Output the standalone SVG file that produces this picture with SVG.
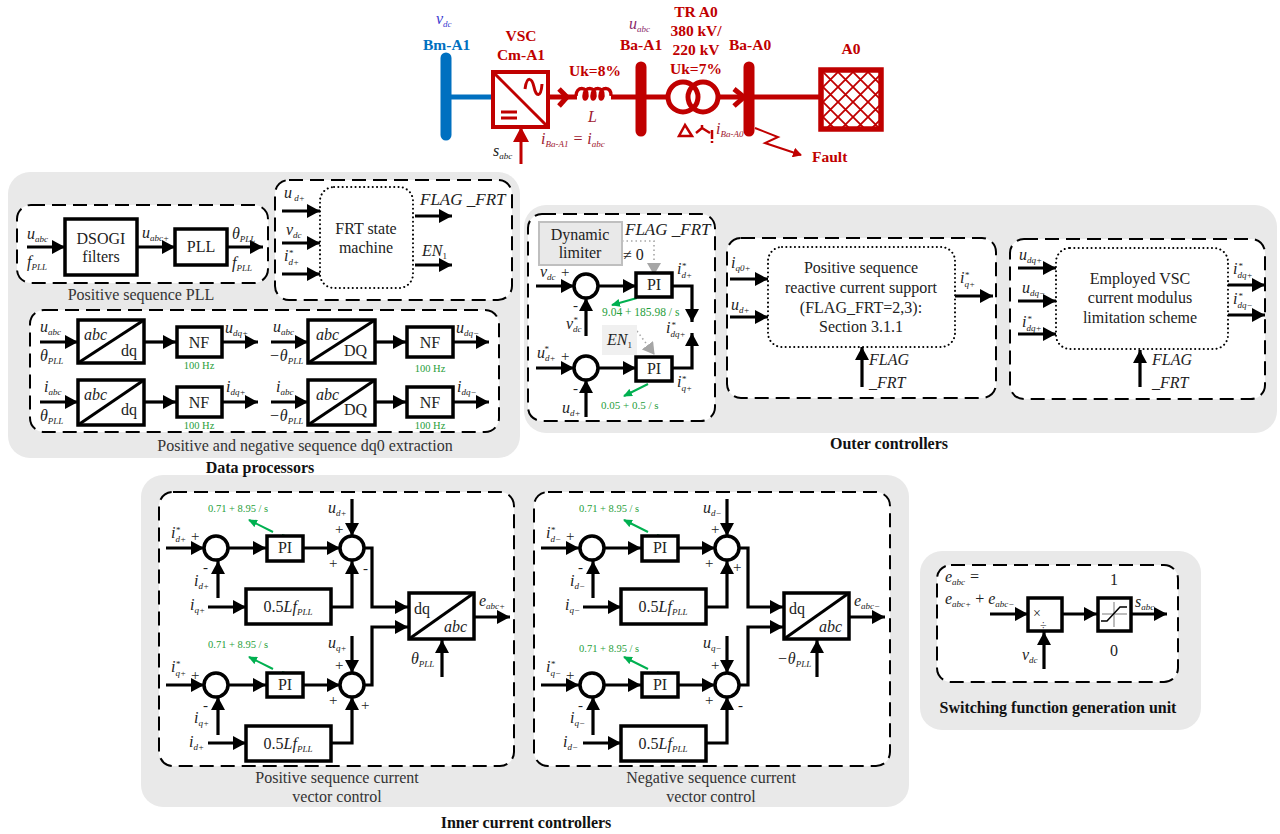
<svg xmlns="http://www.w3.org/2000/svg" width="1280" height="834" viewBox="0 0 1280 834">
<style>
text{font-family:"Liberation Serif","Times New Roman",serif;fill:#222}
.l{font-style:italic;font-size:16px}
.s{font-size:9px}
.t{font-style:normal;font-size:9px}
.n{font-size:16px;text-anchor:middle}
.i15{font-size:16px}
.c{font-size:16px;text-anchor:middle;fill:#333}
.h{font-size:16px;font-weight:bold;text-anchor:middle;fill:#111}
.r{font-size:15.5px;font-weight:bold;fill:#c00000}
.rm{text-anchor:middle}
.g{font-size:10.5px;fill:#1f9e3a}
.sg{font-size:15px}
.ff{font-size:17px}
.panel{fill:#e9e9e9}
.dash{fill:#fff;stroke:#000;stroke-width:2;stroke-dasharray:14 7}
.dot{fill:#fff;stroke:#000;stroke-width:2;stroke-dasharray:.1 4.2;stroke-linecap:round}
.b{fill:#fff;stroke:#000;stroke-width:3.5}
.j{fill:#fff;stroke:#000;stroke-width:3.5}
.w{fill:none;stroke:#000;stroke-width:3.2}
.ar{marker-end:url(#a)}
.gr{fill:none;stroke:#00b050;stroke-width:2;marker-end:url(#ag)}
.gs{fill:none;stroke:#00b050;stroke-width:2}
.gd{fill:none;stroke:#a6a6a6;stroke-width:1.6;stroke-dasharray:1.5 3;marker-end:url(#ah)}
.red{fill:none;stroke:#c00000;stroke-width:5}
</style>
<defs>
<marker id="a" markerUnits="userSpaceOnUse" markerWidth="14" markerHeight="14" refX="13" refY="7" orient="auto"><path d="M0,0L13,7L0,14z" fill="#000"/></marker>
<marker id="ag" markerUnits="userSpaceOnUse" markerWidth="9" markerHeight="8" refX="8" refY="4" orient="auto"><path d="M0,0L9,4L0,8z" fill="#00b050"/></marker>
<marker id="ah" markerUnits="userSpaceOnUse" markerWidth="12" markerHeight="14" refX="11" refY="7" orient="auto"><path d="M0,0L12,7L0,14z" fill="#a6a6a6"/></marker>
<marker id="ar" markerUnits="userSpaceOnUse" markerWidth="15" markerHeight="16" refX="14" refY="8" orient="auto"><path d="M0,0L15,8L0,16z" fill="#c00000"/></marker>
<marker id="af" markerUnits="userSpaceOnUse" markerWidth="9" markerHeight="10" refX="8" refY="5" orient="auto"><path d="M0,0L9,5L0,10z" fill="#c00000"/></marker>
<pattern id="hatch" patternUnits="userSpaceOnUse" width="15" height="15" x="823" y="72"><path d="M0,0L15,15M15,0L0,15" stroke="#c00000" stroke-width="1.8" fill="none"/></pattern>
</defs>

<g id="panels">
<rect class="panel" x="8" y="172" width="512" height="286" rx="22"/>
<rect class="panel" x="524" y="205" width="753" height="228" rx="22"/>
<rect class="panel" x="141" y="475" width="768" height="332" rx="22"/>
<rect class="panel" x="920" y="551" width="281" height="179" rx="22"/>
<rect class="dash" x="17" y="205" width="251" height="78" rx="14"/>
<rect class="dash" x="275" y="180" width="237" height="120" rx="14"/>
<rect class="dash" x="30" y="310" width="469" height="122" rx="14"/>
<rect class="dash" x="528" y="214" width="187" height="207" rx="14"/>
<rect class="dash" x="727" y="238" width="269" height="160" rx="14"/>
<rect class="dash" x="1010" y="239" width="255" height="160" rx="14"/>
<rect class="dash" x="159" y="492" width="355" height="274" rx="14"/>
<rect class="dash" x="534" y="492" width="356" height="274" rx="14"/>
<rect class="dash" x="937" y="565" width="241" height="117" rx="14"/>
<text class="c" x="141" y="300">Positive sequence PLL</text>
<text class="c" x="305" y="451">Positive and negative sequence dq0 extraction</text>
<text class="c" x="337" y="783">Positive sequence current</text>
<text class="c" x="337" y="802">vector control</text>
<text class="c" x="711" y="783">Negative sequence current</text>
<text class="c" x="711" y="802">vector control</text>
<text class="h" x="260" y="473">Data processors</text>
<text class="h" x="889" y="449">Outer controllers</text>
<text class="h" x="526" y="828">Inner current controllers</text>
<text class="h" x="1058" y="713">Switching function generation unit</text>
</g>

<g id="connectors">
<!-- one-line diagram -->
<path d="M446,97H493" fill="none" stroke="#0070c0" stroke-width="5"/>
<path class="red" d="M548,97H577M611,97H641M641,97H668M718,97H749M749,97H819"/>
<path class="red" d="M559,89L567,97L559,106M734,89L744,97L734,106"/>
<path d="M521,164V128" fill="none" stroke="#c00000" stroke-width="3" marker-end="url(#ar)"/>
<path d="M755,128L778,137L765,143L801,155" fill="none" stroke="#c00000" stroke-width="2" marker-end="url(#af)"/>
<!-- PLL -->
<path class="w ar" d="M27,247H65"/><path class="w ar" d="M137,247H175"/><path class="w ar" d="M227,247H263"/>
<!-- FRT -->
<path class="w ar" d="M282,211H320"/><path class="w ar" d="M282,243H320"/><path class="w ar" d="M282,274H320"/>
<path class="w ar" d="M415,216H452"/><path class="w ar" d="M415,265H452"/>
<!-- dq0 -->
<path class="w ar" d="M40,342H78"/><path class="w ar" d="M144,342H176"/><path class="w ar" d="M222,342H258"/>
<path class="w ar" d="M271,342H308"/><path class="w ar" d="M375,342H406"/><path class="w ar" d="M453,342H489"/>
<path class="w ar" d="M40,402H78"/><path class="w ar" d="M144,402H176"/><path class="w ar" d="M222,402H258"/>
<path class="w ar" d="M271,402H308"/><path class="w ar" d="M375,402H406"/><path class="w ar" d="M453,402H489"/>
<!-- dynamic limiter -->
<path class="w ar" d="M536,286H574"/><path class="w ar" d="M598,286H636"/>
<path class="w ar" d="M586,336V298"/>
<path class="w ar" d="M672,286H692V322"/>
<path class="w ar" d="M536,368H574"/><path class="w ar" d="M598,368H636"/>
<path class="w ar" d="M586,417V380"/>
<path class="w ar" d="M672,368H692V333"/>
<path class="gd" d="M622,241H654V274"/>
<path class="gd" d="M637,331L654,354"/>
<path class="gr" d="M637,298L612,305"/>
<path class="gr" d="M648,384L624,396"/>
<!-- outer 1 -->
<path class="w ar" d="M730,279H768"/><path class="w ar" d="M730,317H768"/><path class="w ar" d="M955,296H993"/><path class="w ar" d="M862,387V347"/>
<!-- outer 2 -->
<path class="w ar" d="M1018,268H1056"/><path class="w ar" d="M1018,301H1056"/><path class="w ar" d="M1018,334H1056"/>
<path class="w ar" d="M1228,285H1265"/><path class="w ar" d="M1228,315H1265"/><path class="w ar" d="M1140,387V350"/>
<!-- inner positive -->
<path class="w ar" d="M166,548H204"/><path class="w ar" d="M228,548H266"/><path class="w ar" d="M303,548H340"/>
<path class="w ar" d="M218,598V561"/><path class="w ar" d="M208,607H246"/>
<path class="w ar" d="M352,499V536"/><path class="w ar" d="M331,607H352V561"/>
<path class="w ar" d="M364,548H372V607H408"/>
<path class="w ar" d="M166,685H204"/><path class="w ar" d="M228,685H266"/><path class="w ar" d="M303,685H340"/>
<path class="w ar" d="M218,735V697"/><path class="w ar" d="M208,743H246"/>
<path class="w ar" d="M352,636V673"/><path class="w ar" d="M331,743H352V697"/>
<path class="w ar" d="M364,685H372V627H408"/>
<path class="w ar" d="M474,617H510"/><path class="w ar" d="M442,677V640"/>
<path class="gr" d="M273,532L249,520"/><path class="gr" d="M273,669L249,657"/>
<path class="gs" d="M282,535L285,536M282,672L285,673"/>
<!-- inner negative -->
<path class="w ar" d="M541,548H579"/><path class="w ar" d="M603,548H641"/><path class="w ar" d="M678,548H715"/>
<path class="w ar" d="M593,598V561"/><path class="w ar" d="M583,607H621"/>
<path class="w ar" d="M727,499V536"/><path class="w ar" d="M706,607H727V561"/>
<path class="w ar" d="M739,548H748V607H783"/>
<path class="w ar" d="M541,685H579"/><path class="w ar" d="M603,685H641"/><path class="w ar" d="M678,685H715"/>
<path class="w ar" d="M593,735V697"/><path class="w ar" d="M583,743H621"/>
<path class="w ar" d="M727,636V673"/><path class="w ar" d="M706,743H727V697"/>
<path class="w ar" d="M739,685H748V627H783"/>
<path class="w ar" d="M849,617H885"/><path class="w ar" d="M817,677V640"/>
<path class="gr" d="M648,532L624,520"/><path class="gr" d="M648,669L624,657"/>
<path class="gs" d="M657,535L660,536M657,672L660,673"/>
<!-- switching -->
<path class="w ar" d="M990,614H1028"/><path class="w ar" d="M1062,614H1097"/><path class="w ar" d="M1131,614H1167"/><path class="w ar" d="M1044,669V632"/>
</g>

<g id="bus-bm-a1"><path d="M446,58V135" stroke="#0070c0" stroke-width="11" stroke-linecap="round"/><text x="423" y="50" class="r" style="fill:#0070c0">Bm-A1</text><text class="l" x="436" y="24" style="fill:#3a3ad0">v<tspan class="s" dy="3">dc</tspan></text></g>
<g id="vsc-cm-a1"><rect x="493" y="72" width="55" height="55" fill="#fff" stroke="#c00000" stroke-width="4"/><path d="M493,72L548,127" stroke="#c00000" stroke-width="3"/><path d="M525,89C527,75 532,78 534,87C536,97 541,98 542,84" fill="none" stroke="#c00000" stroke-width="3"/><path d="M501,112H517M501,118H517" stroke="#c00000" stroke-width="3"/>
<text class="r rm" x="521" y="41">VSC</text><text class="r rm" x="521" y="60">Cm-A1</text><text class="l" x="493" y="156">s<tspan class="s" dy="3">abc</tspan></text><text class="l" x="541" y="144" style="fill:#a02030">i<tspan class="s" dy="3">Ba-A1</tspan><tspan dy="-3"> = i</tspan><tspan class="s" dy="3">abc</tspan></text></g>
<g id="inductor-l"><path d="M576,96c0,-10 12,-10 11,0c-1,4 -3,4 -3,0c0,-10 12,-10 11,0c-1,4 -3,4 -3,0c0,-10 12,-10 11,0c-1,4 -3,4 -3,0c0,-10 12,-10 11,0" fill="none" stroke="#c00000" stroke-width="3.5"/><text class="r rm" x="595" y="76">Uk=8%</text><text class="l" x="588" y="122" style="fill:#a02030">L</text></g>
<g id="bus-ba-a1"><path d="M641,67V131" stroke="#c00000" stroke-width="11" stroke-linecap="round"/><text class="r" x="620" y="50">Ba-A1</text><text class="l" x="629" y="29" style="fill:#8a2a6a">u<tspan class="s" dy="3">abc</tspan></text></g>
<g id="transformer-tr-a0"><circle cx="683" cy="97" r="15" fill="none" stroke="#c00000" stroke-width="5"/><circle cx="703" cy="97" r="15" fill="none" stroke="#c00000" stroke-width="5"/><path d="M685,125L679,136H692z" fill="none" stroke="#c00000" stroke-width="2.5"/><path d="M696,133L702,128L710,133M702,128V125M712,130V139M712,141V143" fill="none" stroke="#c00000" stroke-width="2.5"/>
<text class="r rm" x="696" y="17">TR A0</text><text class="r rm" x="696" y="36">380 kV/</text><text class="r rm" x="696" y="55">220 kV</text><text class="r rm" x="696" y="74">Uk=7%</text></g>
<g id="bus-ba-a0"><path d="M749,67V131" stroke="#c00000" stroke-width="11" stroke-linecap="round"/><text class="r" x="729" y="50">Ba-A0</text><text class="l" x="716" y="134" style="fill:#a02030">i<tspan class="s" dy="3">Ba-A0</tspan></text><text class="r" x="812" y="162">Fault</text></g>
<g id="grid-a0"><rect x="821" y="70" width="60" height="59" fill="url(#hatch)" stroke="#c00000" stroke-width="5.5"/><text class="r rm" x="851" y="54">A0</text></g>

<g id="pll-dsogi"><rect class="b" x="65" y="219" width="72" height="56"/><text class="n" x="101" y="244">DSOGI</text><text class="n" x="101" y="262">filters</text></g>
<g id="pll-block"><rect class="b" x="175" y="229" width="52" height="36"/><text class="n" x="201" y="252">PLL</text></g>
<g id="pll-labels">
<text class="l" x="27" y="239">u<tspan class="s" dy="3">abc</tspan></text>
<text class="l" x="27" y="267">f<tspan class="s" dy="3">PLL</tspan></text>
<text class="l" x="142" y="238">u<tspan class="s" dy="3">abc+</tspan></text>
<text class="l" x="232" y="239">θ<tspan class="s" dy="3">PLL</tspan></text>
<text class="l" x="232" y="268">f<tspan class="s" dy="3">PLL</tspan></text>
</g>
<g id="frt-state"><rect class="dot" x="320" y="187" width="93" height="101" rx="14"/><text class="n" x="366" y="234">FRT state</text><text class="n" x="366" y="253">machine</text>
<text class="l" x="284" y="198">u<tspan class="s" dy="3"> d+</tspan></text>
<text class="l" x="286" y="235">v<tspan class="s" dy="3">dc</tspan></text>
<text class="l" x="284" y="261">i<tspan class="s" dy="4">d+</tspan><tspan class="t" dx="-10" dy="-9">*</tspan></text>
<text class="l ff" x="420" y="205">FLAG _FRT</text>
<text class="l" x="422" y="256">EN<tspan class="t" dy="3">1</tspan></text></g>

<g id="dq-u-plus"><rect class="b" x="78" y="320" width="66" height="43"/><path d="M78,363L144,320" stroke="#000" stroke-width="3"/><text class="l" x="84" y="340">abc</text><text class="i15" x="121" y="356">dq</text>
<text class="l" x="40" y="332">u<tspan class="s" dy="3">abc</tspan></text><text class="l" x="40" y="361">θ<tspan class="s" dy="3">PLL</tspan></text></g>
<g id="nf-u-plus"><rect class="b" x="177" y="327" width="45" height="30"/><text class="n" x="199" y="348">NF</text><text class="g" x="199" y="369" text-anchor="middle">100 Hz</text><text class="l" x="225" y="333">u<tspan class="s" dy="3">dq+</tspan></text></g>
<g id="dq-u-minus"><rect class="b" x="308" y="320" width="67" height="43"/><path d="M308,363L375,320" stroke="#000" stroke-width="3"/><text class="l" x="316" y="340">abc</text><text class="i15" x="344" y="356">DQ</text>
<text class="l" x="273" y="332">u<tspan class="s" dy="3">abc</tspan></text><text class="l" x="269" y="361">−θ<tspan class="s" dy="3">PLL</tspan></text></g>
<g id="nf-u-minus"><rect class="b" x="407" y="327" width="46" height="30"/><text class="n" x="430" y="348">NF</text><text class="g" x="430" y="372" text-anchor="middle">100 Hz</text><text class="l" x="456" y="333">u<tspan class="s" dy="3">dq−</tspan></text></g>
<g id="dq-i-plus"><rect class="b" x="78" y="380" width="66" height="45"/><path d="M78,425L144,380" stroke="#000" stroke-width="3"/><text class="l" x="84" y="400">abc</text><text class="i15" x="121" y="415">dq</text>
<text class="l" x="44" y="392">i<tspan class="s" dy="3">abc</tspan></text><text class="l" x="40" y="421">θ<tspan class="s" dy="3">PLL</tspan></text></g>
<g id="nf-i-plus"><rect class="b" x="177" y="387" width="45" height="30"/><text class="n" x="199" y="408">NF</text><text class="g" x="199" y="429" text-anchor="middle">100 Hz</text><text class="l" x="226" y="392">i<tspan class="s" dy="3">dq+</tspan></text></g>
<g id="dq-i-minus"><rect class="b" x="308" y="380" width="67" height="45"/><path d="M308,425L375,380" stroke="#000" stroke-width="3"/><text class="l" x="316" y="400">abc</text><text class="i15" x="344" y="415">DQ</text>
<text class="l" x="276" y="392">i<tspan class="s" dy="3">abc</tspan></text><text class="l" x="269" y="421">−θ<tspan class="s" dy="3">PLL</tspan></text></g>
<g id="nf-i-minus"><rect class="b" x="407" y="387" width="46" height="30"/><text class="n" x="430" y="408">NF</text><text class="g" x="430" y="429" text-anchor="middle">100 Hz</text><text class="l" x="457" y="392">i<tspan class="s" dy="3">dq−</tspan></text></g>

<g id="dynamic-limiter"><rect x="539" y="222" width="83" height="43" fill="#e9e9e9" stroke="#bfbfbf" stroke-width="2"/><text class="n" x="580" y="240">Dynamic</text><text class="n" x="580" y="258">limiter</text><text class="l ff" x="625" y="235">FLAG _FRT</text><text x="623" y="260" class="i15">≠ 0</text></g>
<g id="outer-sum-1"><circle class="j" cx="586" cy="286" r="12"/><text class="l" x="540" y="277">v<tspan class="s" dy="3">dc</tspan></text><text class="sg" x="561" y="277">+</text><text class="sg" x="573" y="310">-</text><text class="l" x="566" y="329">v<tspan class="s" dy="3">dc</tspan><tspan class="t" dx="-8" dy="-9">*</tspan></text></g>
<g id="outer-pi-1"><rect class="b" x="636" y="273" width="36" height="24"/><text class="n" x="654" y="290">PI</text><text class="l" x="677" y="274">i<tspan class="s" dy="4">d+</tspan><tspan class="t" dx="-10" dy="-9">*</tspan></text><text class="g" x="602" y="316" style="font-size:11.5px">9.04 + 185.98 / s</text></g>
<g id="outer-idq"><text class="l" x="666" y="333">i<tspan class="s" dy="4">dq+</tspan><tspan class="t" dx="-14" dy="-9">*</tspan></text></g>
<g id="outer-en"><rect x="602" y="325" width="35" height="30" fill="#f0f0f0"/><text class="l" x="607" y="345">EN<tspan class="t" dy="3">1</tspan></text></g>
<g id="outer-sum-2"><circle class="j" cx="586" cy="368" r="12"/><text class="l" x="537" y="358">u<tspan class="s" dy="3">d+</tspan><tspan class="t" dx="-11" dy="-9">*</tspan></text><text class="sg" x="561" y="361">+</text><text class="sg" x="573" y="393">-</text><text class="l" x="562" y="413">u<tspan class="s" dy="3">d+</tspan></text></g>
<g id="outer-pi-2"><rect class="b" x="636" y="357" width="36" height="24"/><text class="n" x="654" y="374">PI</text><text class="l" x="677" y="387">i<tspan class="s" dy="4">q+</tspan><tspan class="t" dx="-10" dy="-9">*</tspan></text><text class="g" x="601" y="409" style="font-size:11px">0.05 + 0.5 / s</text></g>

<g id="reactive-support"><rect class="dot" x="768" y="247" width="187" height="100" rx="14"/><text class="n" x="861" y="273">Positive sequence</text><text class="n" x="861" y="293">reactive current support</text><text class="n" x="861" y="313">(FLAG_FRT=2,3):</text><text class="n" x="861" y="332">Section 3.1.1</text>
<text class="l" x="731" y="268">i<tspan class="s" dy="3">q0+</tspan></text><text class="l" x="731" y="310">u<tspan class="s" dy="3">d+</tspan></text><text class="l" x="960" y="283">i<tspan class="s" dy="4">q+</tspan><tspan class="t" dx="-10" dy="-9">*</tspan></text><text class="l" x="869" y="365">FLAG</text><text class="l" x="869" y="388">_FRT</text></g>
<g id="modulus-limit"><rect class="dot" x="1056" y="248" width="172" height="101" rx="14"/><text class="n" x="1140" y="284">Employed VSC</text><text class="n" x="1140" y="303">current modulus</text><text class="n" x="1140" y="323">limitation scheme</text>
<text class="l" x="1019" y="260">u<tspan class="s" dy="3">dq+</tspan></text><text class="l" x="1022" y="293">u<tspan class="s" dy="3">dq−</tspan></text><text class="l" x="1022" y="327">i<tspan class="s" dy="4">dq+</tspan><tspan class="t" dx="-14" dy="-9">*</tspan></text><text class="l" x="1233" y="274">i<tspan class="s" dy="4">dq+</tspan><tspan class="t" dx="-14" dy="-9">*</tspan></text><text class="l" x="1233" y="304">i<tspan class="s" dy="4">dq−</tspan><tspan class="t" dx="-14" dy="-9">*</tspan></text><text class="l" x="1152" y="365">FLAG</text><text class="l" x="1152" y="388">_FRT</text></g>

<g id="pos-d-sum"><circle class="j" cx="216" cy="548" r="12"/><text class="l" x="171" y="538">i<tspan class="s" dy="4">d+</tspan><tspan class="t" dx="-10" dy="-9">*</tspan></text><text class="sg" x="191" y="541">+</text><text class="sg" x="203" y="572">-</text><text class="l" x="194" y="586">i<tspan class="s" dy="3">d+</tspan></text></g>
<g id="pos-d-pi"><rect class="b" x="267" y="536" width="36" height="25"/><text class="n" x="285" y="553">PI</text><text class="g" x="208" y="512">0.71 + 8.95 / s</text></g>
<g id="pos-d-lf"><rect class="b" x="246" y="589" width="85" height="35"/><text class="n" x="288" y="612">0.5<tspan font-style="italic">Lf</tspan><tspan class="s" font-style="italic" dy="3">PLL</tspan></text><text class="l" x="190" y="610">i<tspan class="s" dy="3">q+</tspan></text></g>
<g id="pos-d-add"><circle class="j" cx="352" cy="548" r="12"/><text class="l" x="328" y="513">u<tspan class="s" dy="3">d+</tspan></text><text class="sg" x="335" y="534">+</text><text class="sg" x="329" y="568">+</text><text class="sg" x="363" y="573">-</text></g>
<g id="pos-q-sum"><circle class="j" cx="216" cy="685" r="12"/><text class="l" x="171" y="672">i<tspan class="s" dy="4">q+</tspan><tspan class="t" dx="-10" dy="-9">*</tspan></text><text class="sg" x="191" y="680">+</text><text class="sg" x="203" y="710">-</text><text class="l" x="194" y="723">i<tspan class="s" dy="3">q+</tspan></text></g>
<g id="pos-q-pi"><rect class="b" x="267" y="673" width="36" height="24"/><text class="n" x="285" y="690">PI</text><text class="g" x="208" y="648">0.71 + 8.95 / s</text></g>
<g id="pos-q-lf"><rect class="b" x="246" y="726" width="85" height="35"/><text class="n" x="288" y="749">0.5<tspan font-style="italic">Lf</tspan><tspan class="s" font-style="italic" dy="3">PLL</tspan></text><text class="l" x="189" y="747">i<tspan class="s" dy="3">d+</tspan></text></g>
<g id="pos-q-add"><circle class="j" cx="352" cy="685" r="12"/><text class="l" x="328" y="648">u<tspan class="s" dy="3">q+</tspan></text><text class="sg" x="335" y="670">+</text><text class="sg" x="329" y="705">+</text><text class="sg" x="361" y="710">+</text></g>
<g id="pos-dq-abc"><rect class="b" x="409" y="593" width="65" height="46"/><path d="M409,639L474,593" stroke="#000" stroke-width="3"/><text class="i15" x="414" y="614">dq</text><text class="l" x="444" y="632">abc</text><text class="l" x="479" y="606">e<tspan class="s" dy="3">abc+</tspan></text><text class="l" x="411" y="664">θ<tspan class="s" dy="3">PLL</tspan></text></g>

<g id="neg-d-sum"><circle class="j" cx="592" cy="548" r="12"/><text class="l" x="546" y="538">i<tspan class="s" dy="4">d−</tspan><tspan class="t" dx="-10" dy="-9">*</tspan></text><text class="sg" x="566" y="541">+</text><text class="sg" x="578" y="572">-</text><text class="l" x="570" y="586">i<tspan class="s" dy="3">d−</tspan></text></g>
<g id="neg-d-pi"><rect class="b" x="642" y="536" width="36" height="25"/><text class="n" x="660" y="553">PI</text><text class="g" x="579" y="512">0.71 + 8.95 / s</text></g>
<g id="neg-d-lf"><rect class="b" x="621" y="589" width="85" height="35"/><text class="n" x="663" y="612">0.5<tspan font-style="italic">Lf</tspan><tspan class="s" font-style="italic" dy="3">PLL</tspan></text><text class="l" x="565" y="610">i<tspan class="s" dy="3">q−</tspan></text></g>
<g id="neg-d-add"><circle class="j" cx="727" cy="548" r="12"/><text class="l" x="703" y="513">u<tspan class="s" dy="3">d−</tspan></text><text class="sg" x="711" y="534">+</text><text class="sg" x="705" y="568">+</text><text class="sg" x="733" y="572">+</text></g>
<g id="neg-q-sum"><circle class="j" cx="592" cy="685" r="12"/><text class="l" x="546" y="672">i<tspan class="s" dy="4">q−</tspan><tspan class="t" dx="-10" dy="-9">*</tspan></text><text class="sg" x="566" y="680">+</text><text class="sg" x="578" y="710">-</text><text class="l" x="570" y="723">i<tspan class="s" dy="3">q−</tspan></text></g>
<g id="neg-q-pi"><rect class="b" x="642" y="673" width="36" height="24"/><text class="n" x="660" y="690">PI</text><text class="g" x="579" y="652">0.71 + 8.95 / s</text></g>
<g id="neg-q-lf"><rect class="b" x="621" y="726" width="85" height="35"/><text class="n" x="663" y="749">0.5<tspan font-style="italic">Lf</tspan><tspan class="s" font-style="italic" dy="3">PLL</tspan></text><text class="l" x="563" y="747">i<tspan class="s" dy="3">d−</tspan></text></g>
<g id="neg-q-add"><circle class="j" cx="727" cy="685" r="12"/><text class="l" x="703" y="648">u<tspan class="s" dy="3">q−</tspan></text><text class="sg" x="711" y="670">+</text><text class="sg" x="705" y="705">+</text><text class="sg" x="738" y="710">-</text></g>
<g id="neg-dq-abc"><rect class="b" x="784" y="593" width="65" height="46"/><path d="M784,639L849,593" stroke="#000" stroke-width="3"/><text class="i15" x="789" y="614">dq</text><text class="l" x="819" y="632">abc</text><text class="l" x="854" y="606">e<tspan class="s" dy="3">abc−</tspan></text><text class="l" x="777" y="664">−θ<tspan class="s" dy="3">PLL</tspan></text></g>

<g id="divider"><rect class="b" x="1028" y="598" width="34" height="33"/><text x="1033" y="618" style="font-size:14px">×</text><text x="1040" y="629" style="font-size:12px">÷</text>
<text class="l" x="945" y="582">e<tspan class="s" dy="3">abc</tspan><tspan dy="-3"> =</tspan></text><text class="l" x="945" y="604">e<tspan class="s" dy="3">abc+</tspan><tspan dy="-3" font-style="normal"> + </tspan><tspan>e</tspan><tspan class="s" dy="3">abc−</tspan></text><text class="l" x="1022" y="660">v<tspan class="s" dy="3">dc</tspan></text></g>
<g id="saturation"><rect class="b" x="1098" y="598" width="33" height="33"/><path d="M1102,614H1127M1114,602V627" stroke="#a6a6a6" stroke-width="1.5"/><path d="M1101,621H1107L1120,607H1127" fill="none" stroke="#000" stroke-width="1.5"/><text x="1114" y="585" text-anchor="middle" class="i15">1</text><text x="1114" y="656" text-anchor="middle" class="i15">0</text><text class="l" x="1135" y="607">s<tspan class="s" dy="3">abc</tspan></text></g>
</svg>
